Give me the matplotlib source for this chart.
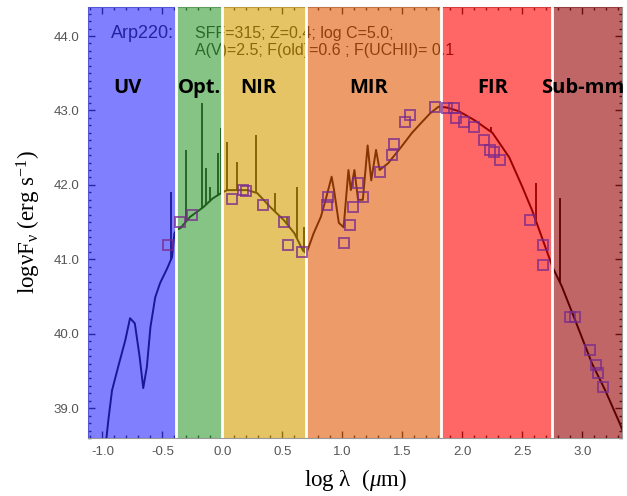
import numpy as np
import matplotlib.pyplot as plt
from matplotlib.ticker import MultipleLocator, FormatStrFormatter

plt.rcParams['mathtext.fontset'] = 'custom'
plt.rcParams['mathtext.rm'] = 'Liberation Serif'
plt.rcParams['mathtext.it'] = 'Liberation Serif:italic'

# model SED continuum: log wavelength (um) vs log nuFnu (erg/s)
model_x = [-0.97, -0.95, -0.92, -0.87, -0.81, -0.77, -0.73, -0.69, -0.66, -0.63,
           -0.60, -0.56, -0.52, -0.46, -0.42, -0.40, -0.38, -0.35, -0.27, -0.16,
           -0.08, 0.0, 0.04, 0.12, 0.21, 0.29, 0.40, 0.51, 0.60, 0.67,
           0.70, 0.76, 0.82, 0.86, 0.91, 0.93, 0.97, 1.01, 1.05, 1.07,
           1.10, 1.13, 1.17, 1.21, 1.24, 1.28, 1.31, 1.38, 1.49, 1.58,
           1.66, 1.73, 1.80, 1.87, 1.97, 2.10, 2.25, 2.39, 2.50, 2.58,
           2.67, 2.75, 2.83, 2.94, 3.08, 3.19, 3.31, 3.36]
model_y = [38.55, 38.85, 39.24, 39.55, 39.91, 40.21, 40.14, 39.69, 39.27, 39.55,
           40.09, 40.49, 40.68, 40.88, 41.03, 41.35, 41.40, 41.42, 41.57, 41.70,
           41.82, 41.90, 41.93, 41.93, 41.93, 41.89, 41.70, 41.53, 41.35, 41.12,
           41.08, 41.35, 41.57, 41.80, 42.11, 41.93, 41.49, 41.43, 42.20, 41.93,
           42.20, 41.80, 41.80, 42.53, 42.06, 42.47, 42.20, 42.29, 42.51, 42.70,
           42.84, 42.96, 43.05, 43.04, 42.99, 42.87, 42.70, 42.37, 41.97, 41.66,
           41.26, 40.90, 40.63, 40.18, 39.60, 39.24, 38.80, 38.60]

# emission lines: position and peak
line_x = [-0.43, -0.30, -0.17, -0.14, -0.10, -0.04, -0.01,
          0.04, 0.12, 0.28, 0.44, 0.54, 0.62, 0.68,
          2.24, 2.61, 2.81]
line_peak = [41.90, 42.47, 43.10, 42.23, 41.97, 42.43, 42.76,
             42.58, 42.31, 42.67, 41.89, 41.57, 41.97, 41.43,
             42.78, 42.02, 41.82]

# observed photometry
obs_x = [-0.45, -0.35, -0.25, 0.08, 0.17, 0.20, 0.34, 0.51, 0.55, 0.66,
         0.87, 0.88, 1.01, 1.06, 1.09, 1.13, 1.17, 1.31, 1.41, 1.43,
         1.52, 1.56, 1.77, 1.87, 1.93, 1.95, 2.01, 2.10, 2.18, 2.23,
         2.26, 2.31, 2.56, 2.67, 2.67, 2.90, 2.94, 3.06, 3.11, 3.13, 3.17]
obs_y = [41.19, 41.50, 41.59, 41.81, 41.93, 41.92, 41.73, 41.50, 41.19, 41.10,
         41.73, 41.84, 41.22, 41.46, 41.70, 42.02, 41.84, 42.17, 42.40, 42.55,
         42.84, 42.94, 43.05, 43.03, 43.03, 42.90, 42.84, 42.78, 42.60, 42.47,
         42.44, 42.33, 41.53, 41.19, 40.92, 40.22, 40.22, 39.78, 39.58, 39.47, 39.28]

# spectral regions
band_names = ['UV', 'Opt.', 'NIR', 'MIR', 'FIR', 'Sub-mm']
band_edges = [-1.2, -0.39, 0.0, 0.70, 1.82, 2.75, 3.4]
band_label_x = [-0.79, -0.19, 0.30, 1.22, 2.25, 3.005]
band_colors = ['#2b2bff', '#349d34', '#d59d00', '#e15803', '#ff0000', '#960000']

fig = plt.figure(figsize=(6.27, 4.96), dpi=100)
ax = fig.add_axes([0.1404, 0.1169, 0.8517, 0.869])

ax.plot(model_x, model_y, color='black', lw=1.4, zorder=3)
base = np.interp(line_x, model_x, model_y)
ax.vlines(line_x, base, line_peak, color='black', lw=1.3, zorder=3)

ax.text(-0.93, 44.04, 'Arp220:', color='#1a1a1a', fontsize=13,
        family='Liberation Sans', va='center', zorder=3)
ax.text(-0.23, 44.04, 'SFF=315; Z=0.4; log C=5.0;', color='#1a1a1a', fontsize=11.5,
        family='Liberation Sans', va='center', zorder=3)
ax.text(-0.23, 43.81, 'A(V)=2.5; F(old)=0.6 ; F(UCHII)= 0.1', color='#1a1a1a',
        fontsize=11.5, family='Liberation Sans', va='center', zorder=3)

# coloured bands drawn over the plot
for i in range(len(band_names)):
    ax.axvspan(band_edges[i], band_edges[i + 1], color=band_colors[i],
               alpha=0.6, lw=0, zorder=10)
    ax.text(band_label_x[i], 43.3, band_names[i], fontsize=14.5, weight='bold',
            family='Open Sans', ha='center', va='center', zorder=12)
for e in band_edges[1:-1]:
    ax.axvline(e, color='white', lw=2, zorder=11)

ax.plot(obs_x, obs_y, 's', ms=7, mfc='none', mec='#7a2a8c', mew=1.4,
        alpha=0.75, zorder=13)

ax.set_xlim(-1.12, 3.33)
ax.set_ylim(38.6, 44.39)
ax.xaxis.set_major_locator(MultipleLocator(0.5))
ax.xaxis.set_minor_locator(MultipleLocator(0.1))
ax.yaxis.set_major_locator(MultipleLocator(1.0))
ax.yaxis.set_minor_locator(MultipleLocator(0.1))
ax.xaxis.set_major_formatter(FormatStrFormatter('%.1f'))
ax.yaxis.set_major_formatter(FormatStrFormatter('%.1f'))
ax.tick_params(which='both', direction='in', top=True, right=True, color='#222222')
ax.tick_params(which='major', length=5, width=1, labelsize=9.5, labelcolor='#555555', pad=6)
ax.tick_params(which='minor', length=2.5, width=1)
for lab in ax.get_xticklabels() + ax.get_yticklabels():
    lab.set_family('Liberation Sans')
for s in ax.spines.values():
    s.set_color('#999999')

ax.set_xlabel(r'log λ  ($\mu$m)', family='Liberation Serif', fontsize=16.5, labelpad=6)
ax.set_ylabel(r'logνF$_{\mathrm{ν}}$ (erg s$^{\mathrm{-1}}$)', family='Liberation Serif',
              fontsize=16.5, labelpad=8)

fig.savefig('out.png', dpi=100)
